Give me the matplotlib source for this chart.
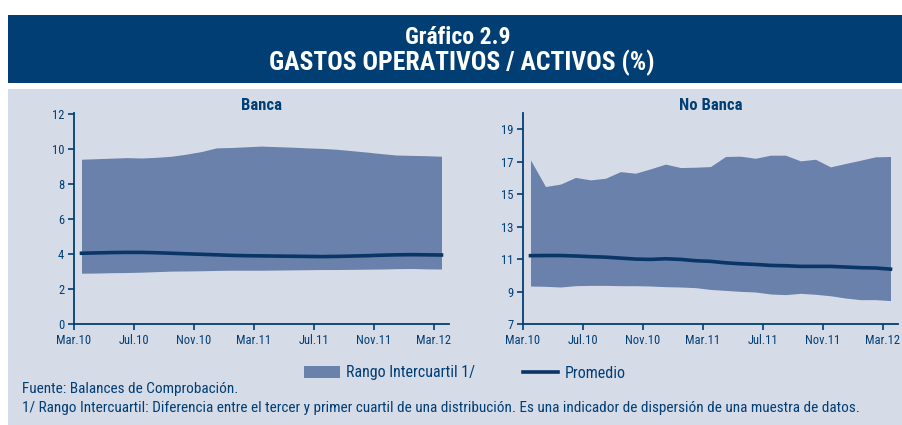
import numpy as np
import matplotlib
matplotlib.use("Agg")
import matplotlib.pyplot as plt
from matplotlib.patches import Rectangle

plt.rcParams['font.family'] = ['Roboto Condensed', 'Roboto', 'DejaVu Sans']

months = ['Mar.10', 'Abr.10', 'May.10', 'Jun.10', 'Jul.10', 'Ago.10', 'Sep.10', 'Oct.10',
          'Nov.10', 'Dic.10', 'Ene.11', 'Feb.11', 'Mar.11', 'Abr.11', 'May.11', 'Jun.11',
          'Jul.11', 'Ago.11', 'Sep.11', 'Oct.11', 'Nov.11', 'Dic.11', 'Ene.12', 'Feb.12', 'Mar.12']
tick_labels = ['Mar.10', 'Jul.10', 'Nov.10', 'Mar.11', 'Jul.11', 'Nov.11', 'Mar.12']

# Banca
banca_q3 = [9.41, 9.44, 9.47, 9.50, 9.48, 9.52, 9.58, 9.70, 9.85, 10.06, 10.08, 10.12, 10.16,
            10.13, 10.10, 10.06, 10.03, 9.98, 9.90, 9.82, 9.73, 9.65, 9.63, 9.61, 9.58]
banca_q1 = [2.90, 2.91, 2.93, 2.94, 2.96, 2.99, 3.02, 3.03, 3.04, 3.06, 3.07, 3.07, 3.07,
            3.08, 3.09, 3.10, 3.11, 3.11, 3.12, 3.13, 3.14, 3.16, 3.17, 3.15, 3.14]
banca_avg = [4.04, 4.06, 4.08, 4.09, 4.09, 4.07, 4.04, 4.01, 3.98, 3.95, 3.92, 3.90, 3.89,
             3.88, 3.87, 3.86, 3.85, 3.86, 3.88, 3.90, 3.93, 3.95, 3.96, 3.95, 3.94]

# No Banca
nobanca_q3 = [17.11, 15.47, 15.62, 16.03, 15.88, 15.98, 16.39, 16.29, 16.56, 16.85, 16.64, 16.66,
              16.70, 17.32, 17.34, 17.21, 17.40, 17.40, 17.05, 17.15, 16.68, 16.89, 17.09, 17.30, 17.32]
nobanca_q1 = [9.34, 9.32, 9.28, 9.36, 9.38, 9.38, 9.36, 9.36, 9.34, 9.30, 9.28, 9.24, 9.13,
              9.07, 9.01, 8.97, 8.85, 8.81, 8.89, 8.83, 8.74, 8.60, 8.50, 8.50, 8.44]
nobanca_avg = [11.21, 11.22, 11.22, 11.19, 11.15, 11.12, 11.06, 11.00, 10.98, 11.02, 10.98, 10.90,
               10.86, 10.77, 10.71, 10.67, 10.61, 10.59, 10.55, 10.55, 10.55, 10.51, 10.47, 10.45, 10.38]

NAVY = '#003e74'
LINE = '#0a3567'
BAND = '#6a81ab'
PANEL = '#d6dbe8'

W, H = 903, 425
fig = plt.figure(figsize=(W / 100, H / 100), dpi=100)
fig.patch.set_facecolor('white')

# header band and panel background
fig.add_artist(Rectangle((8 / W, 1 - 83 / H), 895 / W, 68 / H, transform=fig.transFigure,
                         facecolor=NAVY, edgecolor='none', zorder=0))
fig.add_artist(Rectangle((8 / W, 0), 895 / W, 1 - 89 / H, transform=fig.transFigure,
                         facecolor=PANEL, edgecolor='none', zorder=0))
fig.text(458 / W, 1 - 38 / H, 'Gráfico 2.9', color='white', fontsize=17, fontweight='bold',
         ha='center', va='center')
fig.text(462 / W, 1 - 63 / H, 'GASTOS OPERATIVOS / ACTIVOS (%)', color='white', fontsize=18.5,
         fontweight='bold', ha='center', va='center')


def panel(rect, q1, q3, avg, ylim, yticks, title):
    ax = fig.add_axes(rect)
    ax.set_facecolor('none')
    x = np.arange(len(months))
    ax.fill_between(x, q1, q3, color=BAND, linewidth=0, label='Rango Intercuartil 1/')
    ax.plot(x, avg, color=LINE, linewidth=2.6, label='Promedio')
    ax.set_xlim(-0.5, len(months) - 0.5)
    ax.set_ylim(*ylim)
    ax.set_yticks(yticks)
    ax.set_xticks(np.arange(0, len(months), 4) - 0.5)
    ax.set_xticklabels(tick_labels)
    for s in ['top', 'right']:
        ax.spines[s].set_visible(False)
    for s in ['left', 'bottom']:
        ax.spines[s].set_color(NAVY)
        ax.spines[s].set_linewidth(1.3)
    ax.tick_params(colors=NAVY, labelcolor=NAVY, labelsize=9, length=4, width=1.2, pad=3)
    ax.set_title(title, color=NAVY, fontsize=12, fontweight='bold', pad=0)
    return ax


ax1 = panel([74 / W, 1 - 324 / H, 375 / W, 211 / H], banca_q1, banca_q3, banca_avg,
            (0, 12.05), [0, 2, 4, 6, 8, 10, 12], 'Banca')
ax2 = panel([523 / W, 1 - 324 / H, 375 / W, 211 / H], nobanca_q1, nobanca_q3, nobanca_avg,
            (7, 20), [7, 9, 11, 13, 15, 17, 19], 'No Banca')

handles, labels = ax1.get_legend_handles_labels()
fig.legend(handles, labels, loc='center', bbox_to_anchor=(465 / W, 1 - 373 / H), ncol=2,
           frameon=False, fontsize=11.5, handlelength=2.2, handleheight=0.8, handletextpad=0.4,
           columnspacing=3.0, labelcolor=NAVY)

fig.text(22 / W, 1 - 389 / H, 'Fuente: Balances de Comprobación.', color=NAVY, fontsize=11,
         ha='left', va='center')
fig.text(22 / W, 1 - 408 / H,
         '1/ Rango Intercuartil: Diferencia entre el tercer y primer cuartil de una distribución. '
         'Es una indicador de dispersión de una muestra de datos.',
         color=NAVY, fontsize=11, ha='left', va='center')

fig.savefig('out.png', dpi=100, facecolor=fig.get_facecolor())
